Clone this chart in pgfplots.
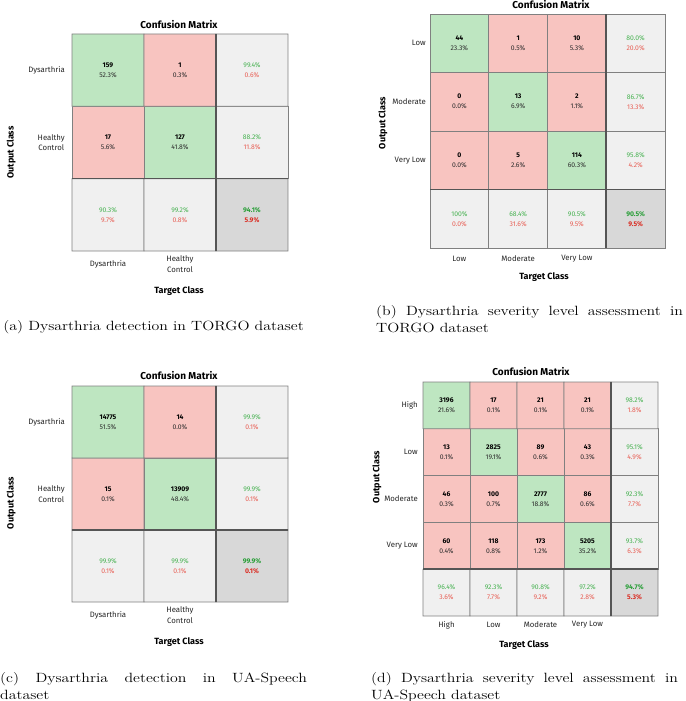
\documentclass[border=0pt]{standalone}
\usepackage{fontspec}
\usepackage{graphicx}
\usepackage{pgfplots}
\pgfplotsset{compat=1.18}
\newfontfamily\cmf{Fira Sans}
\definecolor{tgreen}{RGB}{72,178,82}
\definecolor{tred}{RGB}{232,96,86}
\definecolor{tgreenD}{RGB}{40,158,55}
\definecolor{tredD}{RGB}{218,45,35}
\definecolor{txt}{RGB}{45,45,45}
\definecolor{cellline}{RGB}{128,128,128}
\definecolor{sepline}{RGB}{85,85,85}
\protected\def\cA#1#2{\textbf{\textcolor{black}{#1}}\\#2\%}
\protected\def\cB#1#2{\textcolor{tgreen}{#1\%}\\\textcolor{tred}{#2\%}}
\protected\def\cC#1#2{\textbf{\textcolor{tgreenD}{#1\%}}\\\textbf{\textcolor{tredD}{#2\%}}}
\newcommand{\capt}[1]{{\fontsize{13.4}{16.7}\selectfont\hyphenpenalty=10000\exhyphenpenalty=10000\tolerance=10000#1}}
\tikzset{cmsep/.style={draw=sepline, line width=1.6pt}}
\pgfplotsset{
  cm/.style={
    scale only axis, enlargelimits=false, clip=false,
    axis line style={draw=none},
    major tick length=0pt, tick style={draw=none},
    colormap={cmc}{rgb255=(248,196,192) rgb255=(190,230,193) rgb255=(240,240,240) rgb255=(216,216,216)},
    point meta min=0, point meta max=3,
    tick label style={font=\cmf\fontsize{7.8}{10.5}\selectfont, align=center, text=black!85},
    xticklabel style={anchor=center, inner sep=0pt},
    yticklabel style={anchor=east, inner sep=0pt},
    every axis title/.style={at={(axis description cs:0.5,1)}, anchor=center, font=\cmf\bfseries\fontsize{10}{12}\selectfont},
    every axis x label/.style={at={(axis description cs:0.5,0)}, anchor=center},
    every axis y label/.style={rotate=90, anchor=center},
    label style={font=\cmf\bfseries\fontsize{9}{11}\selectfont},
    title={Confusion Matrix}, xlabel={Target Class}, ylabel={Output Class},
  },
  cmcells/.style={matrix plot*, mesh/cols=#1, point meta=explicit, draw=cellline, line width=0.7pt},
  cmtext/.style={only marks, mark=none, point meta=explicit symbolic, nodes near coords,
    every node near coord/.append style={anchor=center, align=center, inner sep=0pt,
      font=\cmf\fontsize{6.8}{10}\selectfont, text=txt}},
}
\begin{document}
\begin{tikzpicture}
\useasboundingbox (0pt,0pt) rectangle (685pt,-701pt);
% ---------------- (a)
\begin{axis}[cm, at={(72pt,-34pt)}, anchor=north west, width=216pt, height=217pt,
  xmin=-0.5, xmax=2.5, ymin=-0.5, ymax=2.5,
  xtick={0,1}, xticklabels={Dysarthria,{Healthy\\Control}},
  ytick={1,2}, yticklabels={{Healthy\\Control},Dysarthria},
  xticklabel style={yshift=-13pt}, yticklabel style={xshift=-7pt},
  title style={xshift=-1pt, yshift=9.5pt},
  xlabel style={xshift=-1pt, yshift=-40pt},
  ylabel style={at={(axis description cs:-0.282,0.454)}}]
\addplot[cmcells=3] table[meta=c]{
x y c
0 0 2
1 0 2
2 0 3
0 1 0
1 1 1
2 1 2
0 2 1
1 2 0
2 2 2
};
\addplot[cmtext] coordinates {
(0,2) [\cA{159}{52.3}] (1,2) [\cA{1}{0.3}] (2,2) [\cB{99.4}{0.6}]
(0,1) [\cA{17}{5.6}] (1,1) [\cA{127}{41.8}] (2,1) [\cB{88.2}{11.8}]
(0,0) [\cB{90.3}{9.7}] (1,0) [\cB{99.2}{0.8}] (2,0) [\cC{94.1}{5.9}]
};
\draw[cmsep] (axis cs:1.5,-0.5) -- (axis cs:1.5,2.5);
\draw[cmsep] (axis cs:-0.5,0.5) -- (axis cs:2.5,0.5);
\end{axis}
% ---------------- (b)
\begin{axis}[cm, at={(430pt,-14pt)}, anchor=north west, width=235pt, height=234pt,
  xmin=-0.5, xmax=3.5, ymin=-0.5, ymax=3.5,
  xtick={0,1,2}, xticklabels={Low,Moderate,Very Low},
  ytick={1,2,3}, yticklabels={Very Low,Moderate,Low},
  xticklabel style={yshift=-11pt}, yticklabel style={xshift=-4pt},
  title style={xshift=3.5pt, yshift=9pt},
  xlabel style={xshift=-3.5pt, yshift=-29pt},
  ylabel style={at={(axis description cs:-0.2,0.534)}}]
\addplot[cmcells=4] table[meta=c]{
x y c
0 0 2
1 0 2
2 0 2
3 0 3
0 1 0
1 1 0
2 1 1
3 1 2
0 2 0
1 2 1
2 2 0
3 2 2
0 3 1
1 3 0
2 3 0
3 3 2
};
\addplot[cmtext] coordinates {
(0,3) [\cA{44}{23.3}] (1,3) [\cA{1}{0.5}] (2,3) [\cA{10}{5.3}] (3,3) [\cB{80.0}{20.0}]
(0,2) [\cA{0}{0.0}] (1,2) [\cA{13}{6.9}] (2,2) [\cA{2}{1.1}] (3,2) [\cB{86.7}{13.3}]
(0,1) [\cA{0}{0.0}] (1,1) [\cA{5}{2.6}] (2,1) [\cA{114}{60.3}] (3,1) [\cB{95.8}{4.2}]
(0,0) [\cB{100}{0.0}] (1,0) [\cB{68.4}{31.6}] (2,0) [\cB{90.5}{9.5}] (3,0) [\cC{90.5}{9.5}]
};
\draw[cmsep] (axis cs:2.5,-0.5) -- (axis cs:2.5,3.5);
\draw[cmsep] (axis cs:-0.5,0.5) -- (axis cs:3.5,0.5);
\end{axis}
% ---------------- (c)
\begin{axis}[cm, at={(72pt,-386pt)}, anchor=north west, width=216pt, height=216pt,
  xmin=-0.5, xmax=2.5, ymin=-0.5, ymax=2.5,
  xtick={0,1}, xticklabels={Dysarthria,{Healthy\\Control}},
  ytick={1,2}, yticklabels={{Healthy\\Control},Dysarthria},
  xticklabel style={yshift=-13pt}, yticklabel style={xshift=-7pt},
  title style={xshift=-1pt, yshift=10pt},
  xlabel style={xshift=-1pt, yshift=-40pt},
  ylabel style={at={(axis description cs:-0.282,0.458)}}]
\addplot[cmcells=3] table[meta=c]{
x y c
0 0 2
1 0 2
2 0 3
0 1 0
1 1 1
2 1 2
0 2 1
1 2 0
2 2 2
};
\addplot[cmtext] coordinates {
(0,2) [\cA{14775}{51.5}] (1,2) [\cA{14}{0.0}] (2,2) [\cB{99.9}{0.1}]
(0,1) [\cA{15}{0.1}] (1,1) [\cA{13909}{48.4}] (2,1) [\cB{99.9}{0.1}]
(0,0) [\cB{99.9}{0.1}] (1,0) [\cB{99.9}{0.1}] (2,0) [\cC{99.9}{0.1}]
};
\draw[cmsep] (axis cs:1.5,-0.5) -- (axis cs:1.5,2.5);
\draw[cmsep] (axis cs:-0.5,0.5) -- (axis cs:2.5,0.5);
\end{axis}
% ---------------- (d)
\begin{axis}[cm, at={(423pt,-382pt)}, anchor=north west, width=235pt, height=234pt,
  xmin=-0.5, xmax=4.5, ymin=-0.5, ymax=4.5,
  xtick={0,1,2,3}, xticklabels={High,Low,Moderate,Very Low},
  ytick={1,2,3,4}, yticklabels={Very Low,Moderate,Low,High},
  xticklabel style={yshift=-9pt}, yticklabel style={xshift=-5pt},
  title style={xshift=-9.5pt, yshift=10pt},
  xlabel style={xshift=-16.5pt, yshift=-29pt},
  ylabel style={at={(axis description cs:-0.196,0.594)}}]
\addplot[cmcells=5] table[meta=c]{
x y c
0 0 2
1 0 2
2 0 2
3 0 2
4 0 3
0 1 0
1 1 0
2 1 0
3 1 1
4 1 2
0 2 0
1 2 0
2 2 1
3 2 0
4 2 2
0 3 0
1 3 1
2 3 0
3 3 0
4 3 2
0 4 1
1 4 0
2 4 0
3 4 0
4 4 2
};
\addplot[cmtext] coordinates {
(0,4) [\cA{3196}{21.6}] (1,4) [\cA{17}{0.1}] (2,4) [\cA{21}{0.1}] (3,4) [\cA{21}{0.1}] (4,4) [\cB{98.2}{1.8}]
(0,3) [\cA{13}{0.1}] (1,3) [\cA{2825}{19.1}] (2,3) [\cA{89}{0.6}] (3,3) [\cA{43}{0.3}] (4,3) [\cB{95.1}{4.9}]
(0,2) [\cA{46}{0.3}] (1,2) [\cA{100}{0.7}] (2,2) [\cA{2777}{18.8}] (3,2) [\cA{86}{0.6}] (4,2) [\cB{92.3}{7.7}]
(0,1) [\cA{60}{0.4}] (1,1) [\cA{118}{0.8}] (2,1) [\cA{173}{1.2}] (3,1) [\cA{5205}{35.2}] (4,1) [\cB{93.7}{6.3}]
(0,0) [\cB{96.4}{3.6}] (1,0) [\cB{92.3}{7.7}] (2,0) [\cB{90.8}{9.2}] (3,0) [\cB{97.2}{2.8}] (4,0) [\cC{94.7}{5.3}]
};
\draw[cmsep] (axis cs:3.5,-0.5) -- (axis cs:3.5,4.5);
\draw[cmsep] (axis cs:-0.5,0.5) -- (axis cs:4.5,0.5);
\end{axis}
% ---------------- captions
\node[anchor=base west, inner sep=0pt] at (0pt,-330.5pt) {\scalebox{1.18}[1]{\parbox[t]{260pt}{\capt{\centering (a) Dysarthria detection in TORGO dataset\par}}}};
\node[anchor=base west, inner sep=0pt] at (376pt,-315.5pt) {\scalebox{1.18}[1]{\parbox[t]{260pt}{\capt{(b) Dysarthria severity level assessment in TORGO dataset\par}}}};
\node[anchor=base west, inner sep=0pt] at (0pt,-682.5pt) {\scalebox{1.18}[1]{\parbox[t]{260pt}{\capt{(c) Dysarthria detection in UA-Speech dataset\par}}}};
\node[anchor=base west, inner sep=0pt] at (371pt,-682.5pt) {\scalebox{1.18}[1]{\parbox[t]{260pt}{\capt{(d) Dysarthria severity level assessment in UA-Speech dataset\par}}}};
\end{tikzpicture}
\end{document}
